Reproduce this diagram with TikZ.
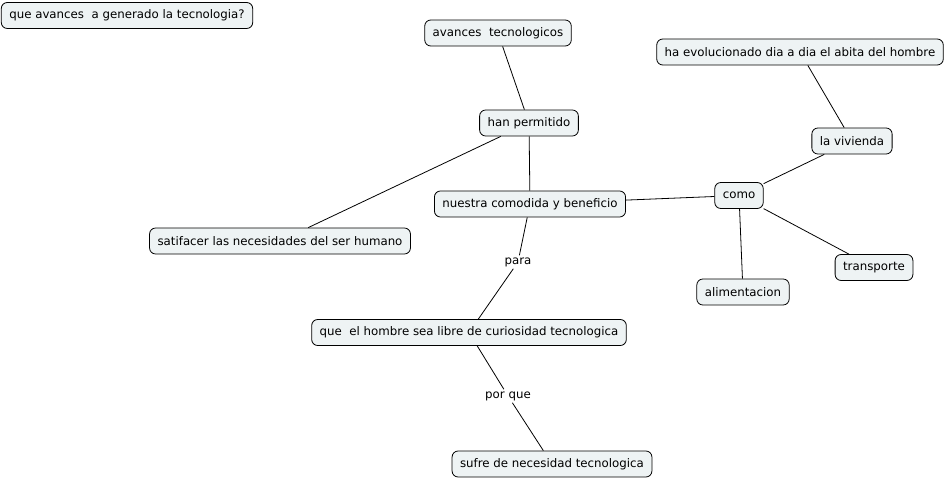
\documentclass[tikz,border=0pt]{standalone}
\usepackage{fontspec}
\setmainfont{DejaVu Sans}
\begin{document}
\begin{tikzpicture}[x=1pt,y=-1pt,
  concept/.style={draw=black,line width=0.8pt,rounded corners=6pt,fill={rgb,255:red,238;green,243;blue,244},
    minimum height=26pt,inner xsep=8pt,font=\fontsize{11.8}{13}\selectfont},
  lab/.style={inner sep=2pt,font=\fontsize{11.8}{13}\selectfont},
  link/.style={draw=black,line width=0.8pt}]
\useasboundingbox (0,0) rectangle (950,481);
\node[concept] (q) at (127,15.5) {que avances\ \ a generado la tecnologia?};
\node[concept] (av) at (498,33) {avances\ \ tecnologicos};
\node[concept] (hp) at (529,123) {han permitido};
\node[concept] (he) at (800,52) {ha evolucionado dia a dia el abita del hombre};
\node[concept] (lv) at (852,141) {la vivienda};
\node[concept] (co) at (739,195.5) {como};
\node[concept] (nc) at (530,204) {nuestra comodida y beneficio};
\node[concept] (sa) at (280,241) {satifacer las necesidades del ser humano};
\node[concept] (tr) at (874,267.5) {transporte};
\node[concept] (al) at (743,292) {alimentacion};
\node[concept] (qh) at (469,332.5) {que\ \ el hombre sea libre de curiosidad tecnologica};
\node[concept] (su) at (552,464) {sufre de necesidad tecnologica};
\node[lab] (pa) at (518,262) {para};
\node[lab] (pq) at (508,396) {por que};
\draw[link] (av) -- (hp);
\draw[link] (hp) -- (sa);
\draw[link] (hp) -- (nc);
\draw[link] (nc) -- (co);
\draw[link] (co) -- (lv);
\draw[link] (lv) -- (he);
\draw[link] (co) -- (tr);
\draw[link] (co) -- (al);
\draw[link] (nc) -- (pa) -- (qh);
\draw[link] (qh) -- (pq) -- (su);
\end{tikzpicture}
\end{document}
